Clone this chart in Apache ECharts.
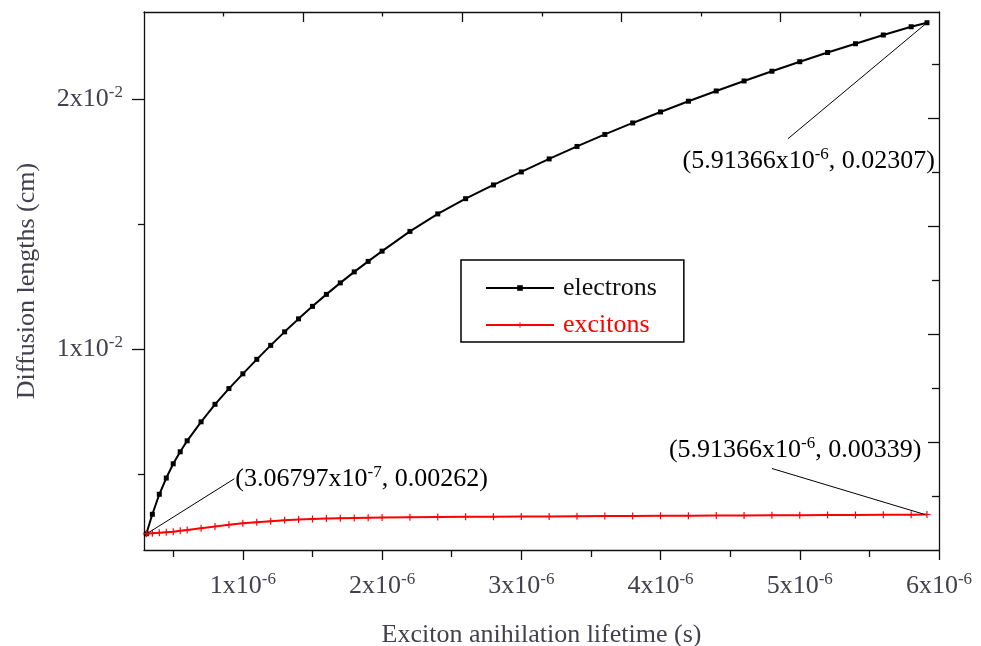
<!DOCTYPE html>
<html>
<head>
<meta charset="utf-8">
<script src="https://cdn.jsdelivr.net/npm/echarts@6/dist/echarts.min.js"></script>
<style>
html,body{margin:0;padding:0;background:#ffffff;}
#chart{width:981px;height:646px;}
</style>
</head>
<body>
<div id="chart"></div>
<script>
// ---------------- data ----------------
const lifetime = [3.06797e-7, 3.5e-7, 4.0e-7, 4.5e-7, 5.0e-7, 5.5e-7, 6.0e-7, 7.0e-7, 8.0e-7, 9.0e-7,
  1.0e-6, 1.1e-6, 1.2e-6, 1.3e-6, 1.4e-6, 1.5e-6, 1.6e-6, 1.7e-6, 1.8e-6, 1.9e-6,
  2.0e-6, 2.2e-6, 2.4e-6, 2.6e-6, 2.8e-6, 3.0e-6, 3.2e-6, 3.4e-6, 3.6e-6, 3.8e-6,
  4.0e-6, 4.2e-6, 4.4e-6, 4.6e-6, 4.8e-6, 5.0e-6, 5.2e-6, 5.4e-6, 5.6e-6, 5.8e-6, 5.91366e-6];
const electrons = [0.00262, 0.00340, 0.00420, 0.00485, 0.00542, 0.00590, 0.00634, 0.00710, 0.00780, 0.00843,
  0.00902, 0.00960, 0.01016, 0.01070, 0.01122, 0.01172, 0.01220, 0.01266, 0.01310, 0.01352,
  0.01393, 0.01472, 0.01542, 0.01603, 0.01658, 0.01710, 0.01762, 0.01812, 0.01860, 0.01906,
  0.01950, 0.01993, 0.02034, 0.02074, 0.02113, 0.02151, 0.02188, 0.02223, 0.02258, 0.02291, 0.02307];
const excitons = [0.00262, 0.00264, 0.00266, 0.00268, 0.00270, 0.00274, 0.00277, 0.00284, 0.00291, 0.00298,
  0.00304, 0.00308, 0.00312, 0.00316, 0.00319, 0.00321, 0.00323, 0.00324, 0.00325, 0.00326,
  0.00327, 0.00328, 0.00329, 0.00330, 0.00330, 0.00331, 0.00331, 0.00332, 0.00333, 0.00333,
  0.00334, 0.00334, 0.00335, 0.00335, 0.00336, 0.00336, 0.00337, 0.00337, 0.00338, 0.00338, 0.00339];
const seriesNames = ['electrons', 'excitons'];
const xMajorTicks = [1e-6, 2e-6, 3e-6, 4e-6, 5e-6, 6e-6];
const xMinorTicks = [0.5e-6, 1.5e-6, 2.5e-6, 3.5e-6, 4.5e-6, 5.5e-6];
const yMajorTicks = [0.01, 0.02];
const yMinorTicks = [0.005, 0.015];
const xExponent = '-6';
const yExponent = '-2';
const xTitle = 'Exciton anihilation lifetime (s)';
const yTitle = 'Diffusion lengths (cm)';
const annotationTexts = [
  ['(3.06797x10', '-7', ', 0.00262)'],
  ['(5.91366x10', '-6', ', 0.00339)'],
  ['(5.91366x10', '-6', ', 0.02307)']
];

// ---------------- styling ----------------
const FONT = 'Liberation Serif';
const TXT = '#42424e';
const AX = '#111111';
const rich = {
  b: {fontFamily: FONT, fontSize: 26, color: TXT, lineHeight: 30},
  s: {fontFamily: FONT, fontSize: 17, color: TXT, lineHeight: 14, verticalAlign: 'top'}
};
const plusPath = 'path://M5,0H7V5H12V7H7V12H5V7H0V5H5Z';

const chart = echarts.init(document.getElementById('chart'), null, {renderer: 'canvas'});

const axisLineStyle = {show: true, lineStyle: {color: AX, width: 1.3}};

const option = {
  animation: false,
  backgroundColor: '#ffffff',
  grid: {left: 144, right: 42, top: 12, bottom: 96, containLabel: false, outerBoundsMode: 'none'},
  legend: {
    orient: 'vertical', left: 461, top: 260,
    padding: [15, 27, 4, 24],
    itemWidth: 68, itemHeight: 7, itemGap: 11,
    borderColor: '#000', borderWidth: 1.5,
    selectedMode: false,
    textStyle: {fontFamily: FONT, fontSize: 26, lineHeight: 26, padding: [0, 0, 0, 4]},
    data: [
      {name: seriesNames[0], textStyle: {color: '#111111'}},
      {name: seriesNames[1], textStyle: {color: '#ff0000'}}
    ]
  },
  xAxis: [
    {
      type: 'value', position: 'bottom', min: 2.9e-7, max: 6e-6,
      axisLine: axisLineStyle,
      axisTick: {show: true, inside: false, length: 10, customValues: xMajorTicks, lineStyle: {color: AX, width: 1.3}},
      axisLabel: {show: true, customValues: xMajorTicks, margin: 21, rich: rich,
        formatter: v => '{b|' + Math.round(v * 1e6) + 'x10}{s|' + xExponent + '}'},
      splitLine: {show: false},
      name: xTitle, nameLocation: 'middle', nameGap: 72,
      nameTextStyle: {fontFamily: FONT, fontSize: 26, color: TXT}
    },
    {
      type: 'value', position: 'bottom', min: 2.9e-7, max: 6e-6,
      axisLine: {show: false},
      axisTick: {show: true, inside: false, length: 7, customValues: xMinorTicks, lineStyle: {color: AX, width: 1.3}},
      axisLabel: {show: false}, splitLine: {show: false}
    },
    {
      type: 'value', position: 'top', min: 0, max: 9.99,
      axisLine: axisLineStyle,
      axisTick: {show: true, inside: true, length: 10, customValues: [2, 4, 6, 8], lineStyle: {color: AX, width: 1.3}},
      axisLabel: {show: false}, splitLine: {show: false}
    },
    {
      type: 'value', position: 'top', min: 0, max: 9.99,
      axisLine: {show: false},
      axisTick: {show: true, inside: true, length: 4.5, customValues: [1, 3, 5, 7, 9], lineStyle: {color: AX, width: 1.3}},
      axisLabel: {show: false}, splitLine: {show: false}
    }
  ],
  yAxis: [
    {
      type: 'value', position: 'left', min: 0.00197, max: 0.0235,
      axisLine: axisLineStyle,
      axisTick: {show: true, inside: false, length: 12, customValues: yMajorTicks, lineStyle: {color: AX, width: 1.3}},
      axisLabel: {show: true, customValues: yMajorTicks, margin: 21, rich: rich,
        formatter: v => '{b|' + Math.round(v * 100) + 'x10}{s|' + yExponent + '}'},
      splitLine: {show: false},
      name: yTitle, nameLocation: 'middle', nameGap: 104, nameRotate: 90,
      nameTextStyle: {fontFamily: FONT, fontSize: 26, color: TXT}
    },
    {
      type: 'value', position: 'left', min: 0.00197, max: 0.0235,
      axisLine: {show: false},
      axisTick: {show: true, inside: false, length: 6, customValues: yMinorTicks, lineStyle: {color: AX, width: 1.3}},
      axisLabel: {show: false}, splitLine: {show: false}
    },
    {
      type: 'value', position: 'right', min: 0, max: 9.97,
      axisLine: axisLineStyle,
      axisTick: {show: true, inside: true, length: 11, customValues: [2, 4, 6, 8], lineStyle: {color: AX, width: 1.3}},
      axisLabel: {show: false}, splitLine: {show: false}
    },
    {
      type: 'value', position: 'right', min: 0, max: 9.97,
      axisLine: {show: false},
      axisTick: {show: true, inside: true, length: 7, customValues: [1, 3, 5, 7, 9], lineStyle: {color: AX, width: 1.3}},
      axisLabel: {show: false}, splitLine: {show: false}
    }
  ],
  series: [
    {
      name: seriesNames[0], type: 'line', xAxisIndex: 0, yAxisIndex: 0,
      data: lifetime.map((t, i) => [t, electrons[i]]),
      symbol: 'rect', symbolSize: 5, showSymbol: true, showAllSymbol: true,
      itemStyle: {color: '#000000'},
      lineStyle: {color: '#000000', width: 2},
      emphasis: {disabled: true}, z: 3
    },
    {
      name: seriesNames[1], type: 'line', xAxisIndex: 0, yAxisIndex: 0,
      data: lifetime.map((t, i) => [t, excitons[i]]),
      symbol: plusPath, symbolSize: 7, showSymbol: true, showAllSymbol: true,
      itemStyle: {color: '#ff0000'},
      lineStyle: {color: '#ff0000', width: 1.8},
      emphasis: {disabled: true}, z: 4
    }
  ]
};
chart.setOption(option);

// ---------------- annotations anchored on data points ----------------
const anchors = [
  chart.convertToPixel({seriesIndex: 0}, [lifetime[0], electrons[0]]),
  chart.convertToPixel({seriesIndex: 1}, [lifetime[lifetime.length - 1], excitons[excitons.length - 1]]),
  chart.convertToPixel({seriesIndex: 0}, [lifetime[lifetime.length - 1], electrons[electrons.length - 1]])
];
const layout = [
  {line: [[2, -1], [88, -55]], text: [89, -55], align: 'left'},
  {line: [[-155, -46], [-2, 0]], text: [-5.6, -64], align: 'right'},
  {line: [[-139, 116], [0, 0]], text: [8, 138], align: 'right'}
];
const graphics = [];
layout.forEach((l, i) => {
  const a = anchors[i];
  graphics.push({
    type: 'line', silent: true, z: 10,
    shape: {x1: a[0] + l.line[0][0], y1: a[1] + l.line[0][1], x2: a[0] + l.line[1][0], y2: a[1] + l.line[1][1]},
    style: {stroke: '#000000', lineWidth: 1}
  });
  const t = annotationTexts[i];
  graphics.push({
    type: 'text', silent: true, z: 10,
    x: a[0] + l.text[0], y: a[1] + l.text[1],
    style: {
      text: '{b|' + t[0] + '}{s|' + t[1] + '}{b|' + t[2] + '}',
      rich: rich, align: l.align, verticalAlign: 'middle'
    }
  });
});
chart.setOption({graphic: graphics});
</script>
</body>
</html>
